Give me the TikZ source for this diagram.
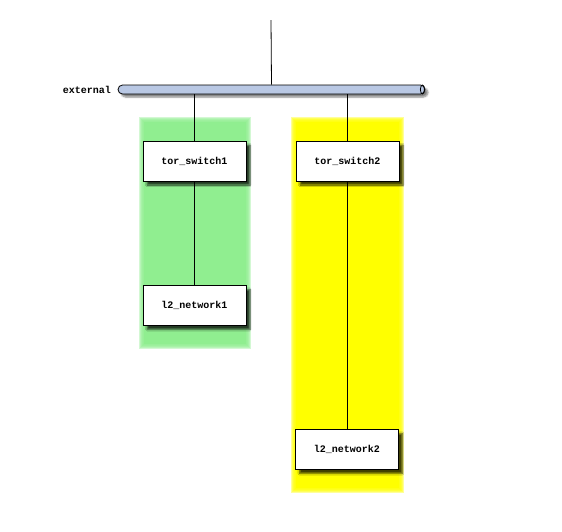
\documentclass[tikz,border=0pt]{standalone}
\usepackage{fontspec}
\setmonofont{Liberation Mono}
\usetikzlibrary{shadows.blur}
\definecolor{barblue}{RGB}{185,200,228}
\definecolor{zonegreen}{RGB}{144,238,144}
\definecolor{zoneyellow}{RGB}{255,255,0}
\tikzset{
  hostbox/.style={draw, line width=0.8pt, fill=white, minimum width=103pt, minimum height=40pt, inner sep=0pt,
    font=\fontsize{10}{12}\selectfont\ttfamily\bfseries,
    blur shadow={shadow xshift=4pt, shadow yshift=-4pt, shadow blur steps=6, shadow opacity=75}},
  netbar/.style={draw, line width=0.8pt, fill=barblue, minimum width=307pt, minimum height=9pt, inner sep=0pt, rounded corners=4.5pt,
    blur shadow={shadow xshift=3pt, shadow yshift=-3pt, shadow blur steps=5, shadow opacity=50}},
  netlabel/.style={font=\fontsize{10}{12}\selectfont\ttfamily\bfseries, anchor=east, inner sep=0pt},
  wire/.style={line width=0.8pt}
}
\begin{document}
\begin{tikzpicture}[x=1pt, y=-1pt]
\useasboundingbox (0,0) rectangle (562,531); % page size
% soft coloured groups
\foreach \i in {0,...,5}
\fill[zonegreen, opacity=0.4] (139+\i,117+\i) rectangle (251-\i,349-\i);
\foreach \i in {0,...,5}
\fill[zoneyellow, opacity=0.4] (291+\i,117+\i) rectangle (404-\i,493-\i);
\fill[zonegreen] (144,122) rectangle (246,344); % group 1
\fill[zoneyellow] (296,122) rectangle (399,488); % group 2

\coordinate (uplink) at (271,20); % top of uplink
\node[netbar] (external) at (271.5,89.5) {}; % network bar
\draw[wire] ([xshift=-3pt]external.east) ellipse (2pt and 4.5pt); % bar end
\node[netlabel] (externallabel) at (111,90) {external};

\node[hostbox] (tor_switch1) at (194.5,161) {tor\_switch1};
\node[hostbox] (l2_network1) at (194.5,305.5) {l2\_network1};
\node[hostbox] (tor_switch2) at (347.5,161) {tor\_switch2};
\node[hostbox] (l2_network2) at (347,449.5) {l2\_network2};

\draw[wire] (uplink) -- (external.north); % uplink
\draw[wire] (external.south -| tor_switch1.north) -- (tor_switch1.north);
\draw[wire] (external.south -| tor_switch2.north) -- (tor_switch2.north);
\draw[wire] (tor_switch1.south) -- (l2_network1.north);
\draw[wire] (tor_switch2.south) -- (tor_switch2.south |- l2_network2.north);
\end{tikzpicture}
\end{document}
